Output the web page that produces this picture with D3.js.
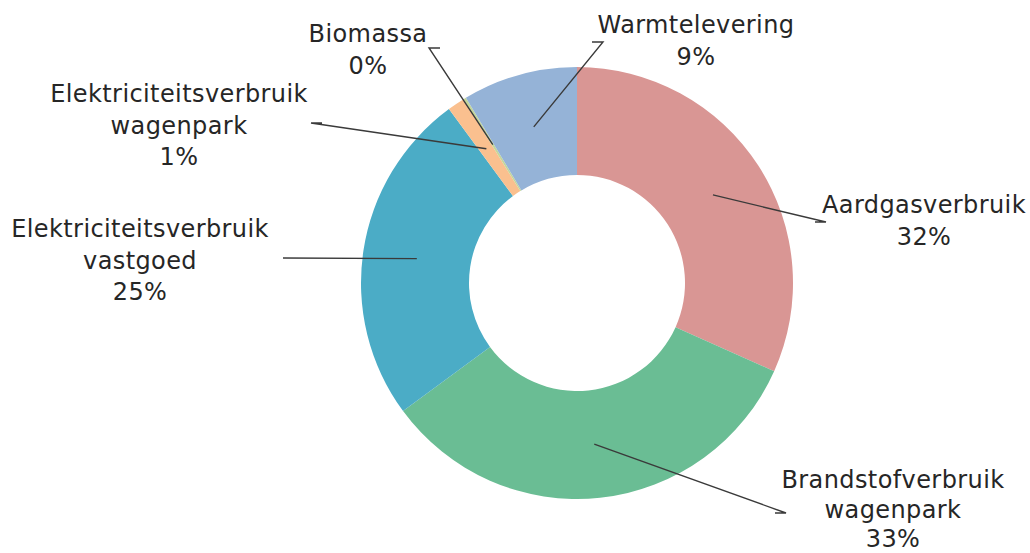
<!DOCTYPE html>
<html>
<head>
<meta charset="utf-8">
<script src="https://cdn.jsdelivr.net/npm/d3@7"></script>
<style>
  html, body { margin: 0; padding: 0; background: #fff; }
  svg { display: block; }
</style>
</head>
<body>
<svg id="chart" width="1030" height="553"></svg>
<script>
// ---- data ----
const categories = ["Aardgasverbruik", "Brandstofverbruik wagenpark", "Elektriciteitsverbruik vastgoed",
                    "Elektriciteitsverbruik wagenpark", "Biomassa", "Warmtelevering"];
const labelLines = [["Aardgasverbruik"], ["Brandstofverbruik", "wagenpark"], ["Elektriciteitsverbruik", "vastgoed"],
                    ["Elektriciteitsverbruik", "wagenpark"], ["Biomassa"], ["Warmtelevering"]];
const values = [31.7, 33.2, 25.0, 1.3, 0.2, 8.6];
const colors = ["#D99694", "#6ABD94", "#4BACC6", "#FAC08F", "#C3D69B", "#95B3D7"];

// ---- layout (label placement, relative to chart centre) ----
// anchor = leader-line end point; tx = text centre x, by = first-line baseline, lh = line height; side = elbow direction
const labelLayout = [
  { ax: 238, ay: -61, tx: 347, by: -70, lh: 31.5, side: -1 },
  { ax: 198, ay: 230, tx: 316, by: 205, lh: 29.5, side: -1 },
  { ax: -294, ay: -25, tx: -437, by: -46, lh: 31.5, side: 0 },
  { ax: -255, ay: -160, tx: -398, by: -181, lh: 31.5, side: 1 },
  { ax: -137, ay: -235, tx: -209, by: -241, lh: 31.5, side: 1 },
  { ax: 15, ay: -241, tx: 119, by: -250, lh: 31.5, side: -1 }
];

const W = 1030, H = 553;
const cx = 577, cy = 283;
const outerR = 216, innerR = 108;
const fontSize = 24;

const svg = d3.select("#chart");
const g = svg.append("g").attr("transform", `translate(${cx},${cy})`);

const pie = d3.pie().sort(null).value(d => d);
const arcs = pie(values);
const arc = d3.arc().innerRadius(innerR).outerRadius(outerR);
const total = d3.sum(values);
const pct = v => Math.round(v / total * 100) + "%";

g.selectAll("path.slice")
  .data(arcs)
  .join("path")
  .attr("class", "slice")
  .attr("d", arc)
  .attr("fill", (d, i) => colors[i]);

// leader lines
const line = d3.line();
g.selectAll("path.leader")
  .data(arcs)
  .join("path")
  .attr("class", "leader")
  .attr("fill", "none")
  .attr("stroke", "#3a3a3a")
  .attr("stroke-width", 1.4)
  .attr("d", (d, i) => {
    const L = labelLayout[i];
    const c = arc.centroid(d);
    const elbow = [L.ax - L.side * 11, L.ay];
    return line([c, elbow, [L.ax, L.ay]]);
  });

// labels
const labels = g.selectAll("text.lbl")
  .data(arcs)
  .join("text")
  .attr("class", "lbl")
  .attr("text-anchor", "middle")
  .attr("font-family", "DejaVu Sans, Verdana, sans-serif")
  .attr("font-size", fontSize)
  .attr("letter-spacing", 0.4)
  .attr("fill", "#262626");

labels.each(function(d, i) {
  const L = labelLayout[i];
  const lines = labelLines[i].concat([pct(d.value)]);
  d3.select(this).selectAll("tspan")
    .data(lines)
    .join("tspan")
    .attr("x", L.tx)
    .attr("y", (t, j) => L.by + j * L.lh)
    .text(t => t);
});
</script>
</body>
</html>
